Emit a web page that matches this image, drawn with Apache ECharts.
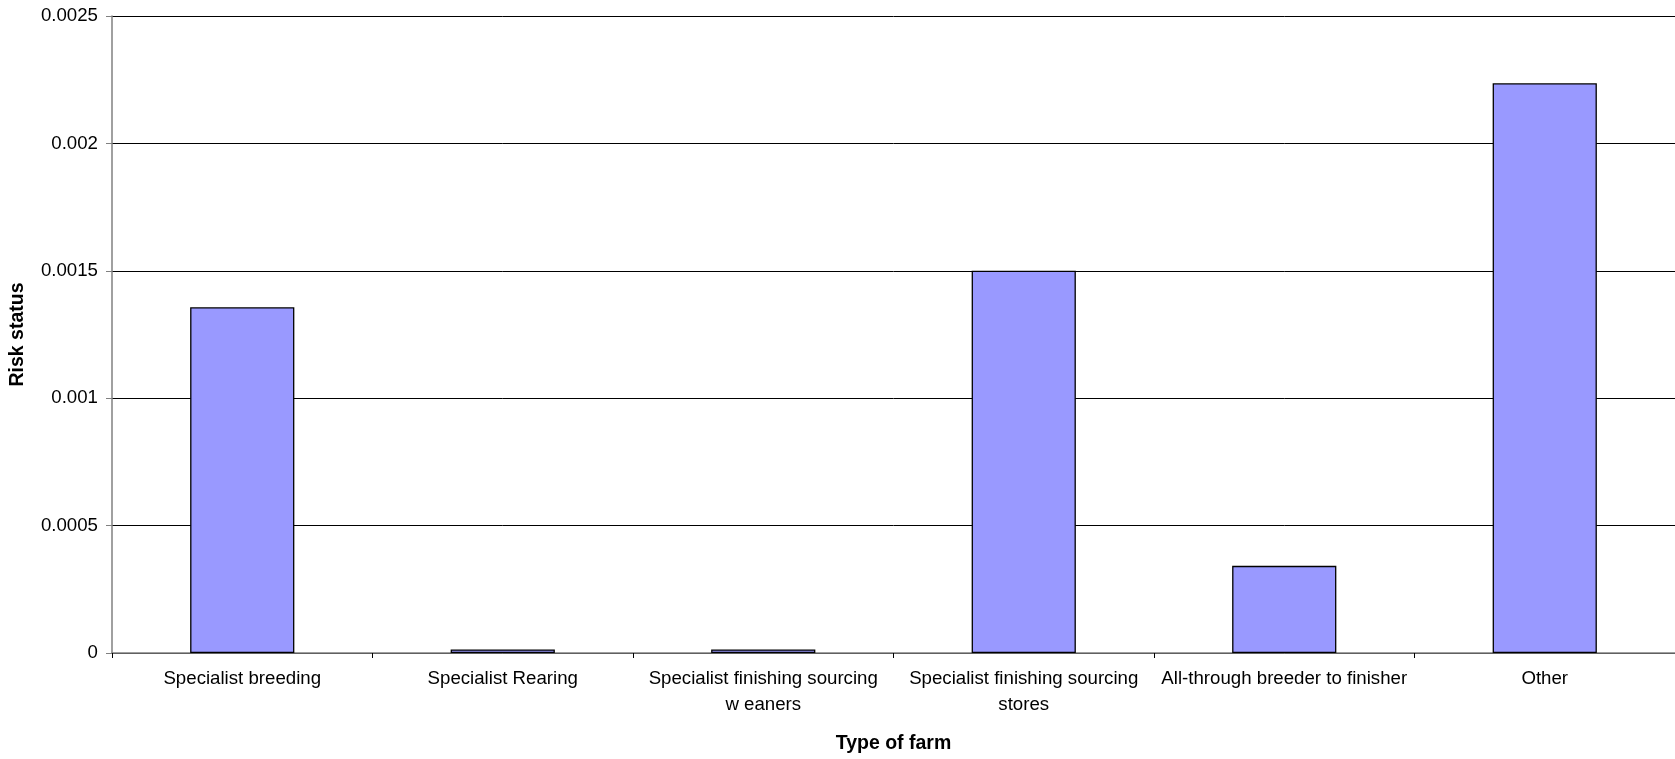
<!DOCTYPE html>
<html>
<head>
<meta charset="utf-8">
<script src="https://cdn.jsdelivr.net/npm/echarts@6/dist/echarts.min.js"></script>
<style>
html,body{margin:0;padding:0;background:#fff;}
#chart{width:1675px;height:759px;}
</style>
</head>
<body>
<div id="chart"></div>
<script>
const categories = [
  "Specialist breeding",
  "Specialist Rearing",
  "Specialist finishing sourcing\nw eaners",
  "Specialist finishing sourcing\nstores",
  "All-through breeder to finisher",
  "Other"
];
const riskValues = [0.001357, 0.000014, 0.000014, 0.0015, 0.000342, 0.002236];
const yTicks = [0, 0.0005, 0.001, 0.0015, 0.002, 0.0025];

const chart = echarts.init(document.getElementById('chart'));
chart.setOption({
  animation: false,
  backgroundColor: '#ffffff',
  textStyle: { fontFamily: 'Liberation Sans, Arial, sans-serif' },
  grid: { left: 112, top: 16, right: 0, bottom: 102, containLabel: false },
  xAxis: {
    type: 'category',
    data: categories,
    name: 'Type of farm',
    nameLocation: 'middle',
    nameGap: 81,
    nameTextStyle: { fontSize: 19.5, fontWeight: 'bold', color: '#000', fontFamily: 'Liberation Sans' },
    axisLine: { lineStyle: { color: '#808080', width: 1.5 } },
    axisTick: { show: true, alignWithLabel: false, interval: 0, length: 5, lineStyle: { color: '#000' } },
    axisLabel: { interval: 0, fontSize: 18.67, color: '#000', lineHeight: 26, margin: 13, fontFamily: 'Liberation Sans' },
    splitLine: { show: false }
  },
  yAxis: {
    type: 'value',
    min: yTicks[0],
    max: yTicks[yTicks.length - 1],
    interval: yTicks[1] - yTicks[0],
    name: 'Risk status',
    nameLocation: 'middle',
    nameRotate: 90,
    nameGap: 84,
    nameTextStyle: { fontSize: 19.5, fontWeight: 'bold', color: '#000', fontFamily: 'Liberation Sans' },
    axisLine: { show: true, lineStyle: { color: '#808080', width: 1.5 } },
    axisTick: { show: true, length: 6, lineStyle: { color: '#808080' } },
    axisLabel: {
      fontSize: 18.67, color: '#000', margin: 14, fontFamily: 'Liberation Sans',
      formatter: v => String(+v.toFixed(6))
    },
    splitLine: { show: true, lineStyle: { color: '#000', width: 1 } }
  },
  series: [{
    type: 'bar',
    data: riskValues,
    barWidth: '40%',
    itemStyle: { color: '#9999FF', borderColor: '#000', borderWidth: 1.3 }
  }]
});
</script>
</body>
</html>
